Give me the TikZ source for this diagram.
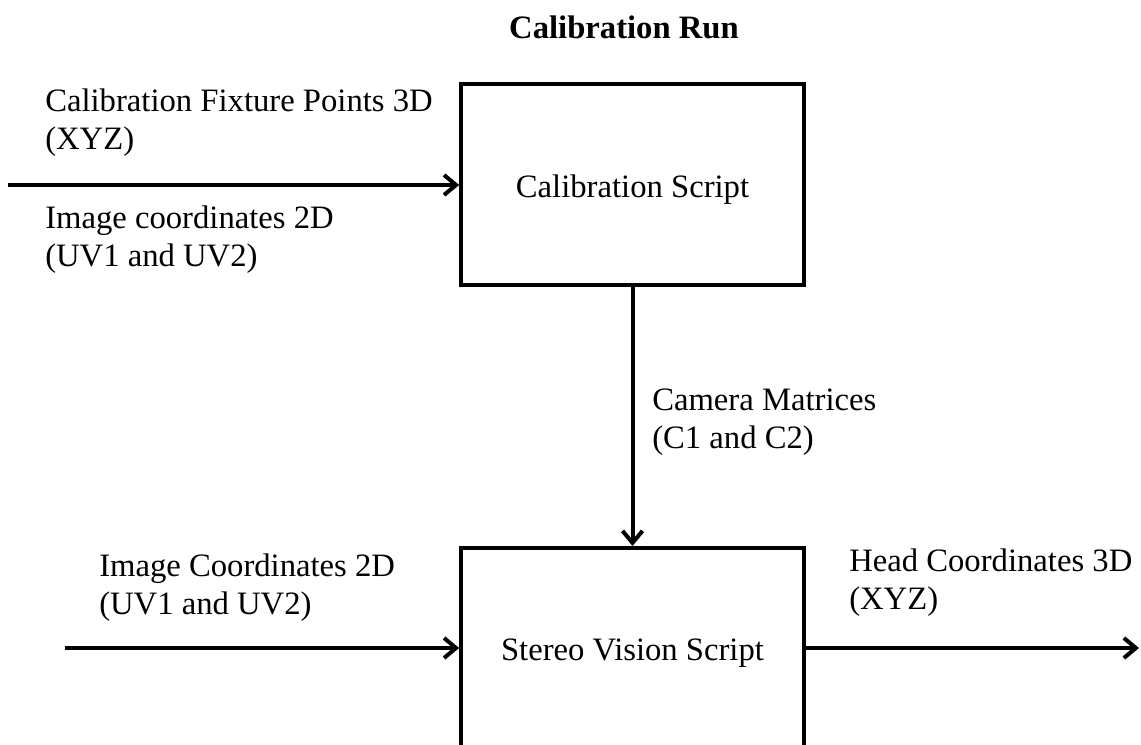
\documentclass[tikz,border=0pt]{standalone}
\usepackage{fontspec}
\setmainfont{Liberation Serif}
\usetikzlibrary{arrows.meta}
\begin{document}
\begin{tikzpicture}[x=0.75pt,y=-0.75pt,
  lbl/.style={font=\fontsize{24.5pt}{28.5pt}\selectfont, align=left, anchor=west, inner sep=0pt},
  box/.style={draw, line width=3pt, minimum width=257pt, minimum height=151pt, inner sep=0pt, font=\fontsize{24.5pt}{28.5pt}\selectfont},
  conn/.style={line width=3pt, -{Straight Barb[length=9pt,width=15pt,line width=3pt]}}]
\useasboundingbox (0,0) rectangle (1141,745);
\clip (0,0) rectangle (1141,745);
\node[font=\fontsize{24.5pt}{28.5pt}\selectfont\bfseries] (title) at (624,27) {Calibration Run};
\node[box] (cal) at (632.5,184.5) {\raisebox{-3.5pt}[\height][\depth]{Calibration Script}};
\node[box, minimum height=153pt] (sv) at (632.5,650) {\raisebox{-2pt}[\height][\depth]{Stereo Vision Script}};
\node[lbl] (fix) at (45,123) {Calibration Fixture Points 3D\\(XYZ)};
\node[lbl] (img1) at (45,239.5) {Image coordinates 2D\\(UV1 and UV2)};
\node[lbl] (cam) at (652,422) {Camera Matrices\\(C1 and C2)};
\node[lbl] (img2) at (99,588) {Image Coordinates 2D\\(UV1 and UV2)};
\node[lbl] (head) at (849,583) {Head Coordinates 3D\\(XYZ)};
\coordinate (in1) at (8,185);
\coordinate (in2) at (65,648);
\coordinate (out) at (1139,648);
\draw[conn] (in1) -- (in1 -| cal.west);
\draw[conn] (cal.south) -- (sv.north);
\draw[conn] (in2) -- (in2 -| sv.west);
\draw[conn] (out -| sv.east) -- (out);
\end{tikzpicture}
\end{document}
